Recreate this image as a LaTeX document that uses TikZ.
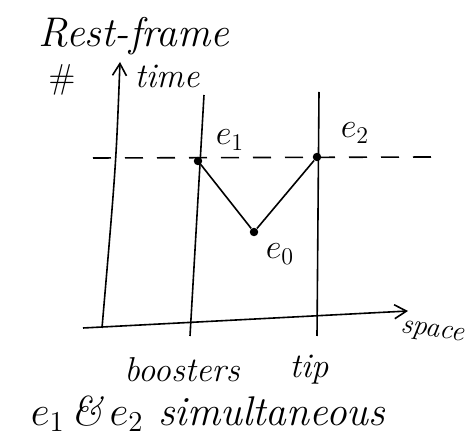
\documentclass[tikz,border=0pt]{standalone}
\usetikzlibrary{arrows.meta}
\begin{document}
\begin{tikzpicture}[x=0.5pt,y=-0.5pt,>={Straight Barb[length=6pt,width=7pt]},
  axisline/.style={thick,->},
  worldline/.style={thick},
  event/.style={circle,fill,inner sep=1.5pt},
  hand/.style={font=\itshape\LARGE}]
  \useasboundingbox (0,0) rectangle (467,443);
  % axes
  \coordinate (tfoot) at (102,328);
  \coordinate (tbend) at (116,165);
  \coordinate (ttop) at (120,62);
  \coordinate (sfoot) at (83,328);
  \coordinate (send) at (408,311);
  \draw[axisline] (tfoot) .. controls (tbend) .. (ttop);
  \draw[axisline] (sfoot) -- (send);
  \node[hand,font=\itshape\huge] (rest) at (134,36) {Rest-frame};
  \node[hand] (time) at (167,76) {time};
  \node[font=\LARGE] (scrib) at (62,80) {\#};
  \node[font=\itshape\Large,rotate=-8] (space) at (432,333) {space};
  % world lines
  \coordinate (btop) at (204,95);
  \coordinate (bfoot) at (190,336);
  \coordinate (ptop) at (319,92);
  \coordinate (pfoot) at (317,336);
  \draw[worldline] (btop) -- (bfoot);
  \draw[worldline] (ptop) -- (pfoot);
  \node[hand] (boost) at (182,370) {boosters};
  \node[hand] (tip) at (309,370) {tip};
  % events
  \node[event] (e1) at (198,161) {};
  \node[event] (e2) at (317,157) {};
  \node[event] (e0) at (254,232) {};
  \coordinate (dl) at (93,158);
  \coordinate (dr) at (432,157);
  \draw[thick,dashed,dash pattern=on 9pt off 7pt] (dl) -- (dr);
  \draw[thick] (e1) -- (e0) -- (e2);
  \node[hand] (le1) at (230,140) {$e_1$};
  \node[hand] (le2) at (355,133) {$e_2$};
  \node[hand] (le0) at (280,254) {$e_0$};
  \node[hand,font=\itshape\huge] (simul) at (208,414) {$e_1$\,\&\,$e_2$ simultaneous};
\end{tikzpicture}
\end{document}
